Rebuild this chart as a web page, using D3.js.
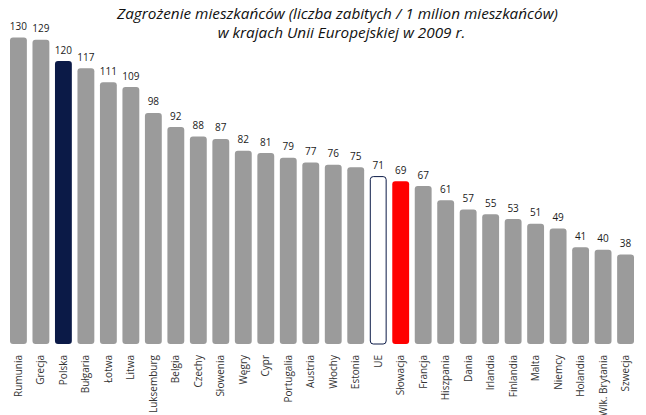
<!DOCTYPE html>
<html>
<head>
<meta charset="utf-8">
<script src="https://cdn.jsdelivr.net/npm/d3@7"></script>
<style>
  body { margin: 0; background: #fff; }
  svg text { font-family: "Open Sans", "Noto Sans", sans-serif; }
</style>
</head>
<body>
<div id="chart"></div>
<script>
var countries = ["Rumunia", "Grecja", "Polska", "Bułgaria", "Łotwa", "Litwa", "Luksemburg", "Belgia",
  "Czechy", "Słowenia", "Węgry", "Cypr", "Portugalia", "Austria", "Włochy", "Estonia", "UE",
  "Słowacja", "Francja", "Hiszpania", "Dania", "Irlandia", "Finlandia", "Malta", "Niemcy",
  "Holandia", "Wlk. Brytania", "Szwecja"];
var killed = [130, 129, 120, 117, 111, 109, 98, 92, 88, 87, 82, 81, 79, 77, 76, 75, 71,
  69, 67, 61, 57, 55, 53, 51, 49, 41, 40, 38];
var titleLines = ["Zagrożenie mieszkańców (liczba zabitych / 1 milion mieszkańców)",
  "w krajach Unii Europejskiej w 2009 r."];

var width = 646, height = 415;
var svg = d3.select("#chart").append("svg")
    .attr("width", width)
    .attr("height", height);

var x = d3.scaleBand()
    .domain(countries)
    .range([10, 634])
    .paddingInner(0.25)
    .paddingOuter(0);

var y = d3.scaleLinear()
    .domain([0, 130])
    .range([344, 37.5]);

function fillFor(c) {
    if (c === "Polska") return "#0b1a47";
    if (c === "UE") return "#ffffff";
    if (c === "Słowacja") return "#ff0000";
    return "#9b9b9b";
}

// bars
svg.append("g").selectAll("rect")
    .data(countries)
    .enter().append("rect")
    .attr("x", function (d) { return x(d) + (d === "UE" ? 0.5 : 0); })
    .attr("y", function (d, i) { return y(killed[i]); })
    .attr("width", function (d) { return x.bandwidth() - (d === "UE" ? 1 : 0); })
    .attr("height", function (d, i) { return y(0) - y(killed[i]); })
    .attr("rx", 3)
    .attr("fill", fillFor)
    .attr("stroke", function (d) { return d === "UE" ? "#0b1a47" : "none"; })
    .attr("stroke-width", 1);

// value labels
svg.append("g").selectAll("text")
    .data(countries)
    .enter().append("text")
    .attr("x", function (d) { return x(d) + x.bandwidth() / 2; })
    .attr("y", function (d, i) { return y(killed[i]) - 7.5; })
    .attr("text-anchor", "middle")
    .attr("font-size", 10)
    .attr("fill", "#1a1a1a")
    .text(function (d, i) { return killed[i]; });

// category labels, rotated
svg.append("g").selectAll("text")
    .data(countries)
    .enter().append("text")
    .attr("transform", function (d) {
        return "translate(" + (x(d) + x.bandwidth() / 2 + 3.5) + ",355) rotate(-90)";
    })
    .attr("text-anchor", "end")
    .attr("font-size", 10)
    .attr("fill", "#333")
    .text(function (d) { return d; });

// title
svg.append("g").selectAll("text")
    .data(titleLines)
    .enter().append("text")
    .attr("x", function (d, i) { return i === 0 ? 337.5 : 341.5; })
    .attr("y", function (d, i) { return 19 + i * 19; })
    .attr("text-anchor", "middle")
    .attr("font-size", 15.3)
    .attr("font-style", "italic")
    .attr("fill", "#111")
    .text(function (d) { return d; });
</script>
</body>
</html>
